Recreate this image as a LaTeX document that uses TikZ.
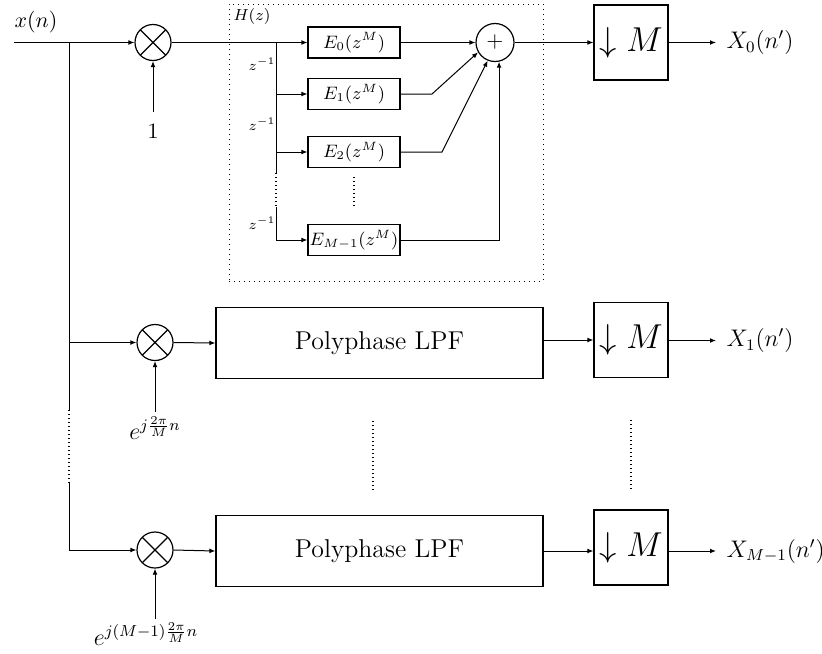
\documentclass[tikz,border=0pt]{standalone}
\usetikzlibrary{arrows.meta}
\begin{document}
\begin{tikzpicture}[x=0.5pt,y=-0.5pt,
  >={Latex[length=3pt,width=2.4pt]},
  every path/.style={line width=0.5pt},
  wire/.style={line width=0.5pt,->},
  mult/.style={circle,draw,line width=0.6pt,minimum size=18pt,inner sep=0pt,
    path picture={\draw[line width=0.6pt] (path picture bounding box.north west)--(path picture bounding box.south east)
      (path picture bounding box.north east)--(path picture bounding box.south west);}},
  summer/.style={circle,draw,line width=0.6pt,minimum size=19pt,inner sep=0pt,font=\fontsize{11}{11}\selectfont},
  ebox/.style={draw,line width=0.6pt,minimum width=46pt,minimum height=15.5pt,inner sep=0pt,font=\fontsize{9}{9}\selectfont},
  lpf/.style={draw,line width=0.6pt,minimum width=163.5pt,minimum height=35.5pt,inner sep=0pt,font=\fontsize{12.9}{14}\selectfont},
  dbox/.style={draw,line width=0.6pt,minimum width=37pt,minimum height=37.5pt,inner sep=0pt,font=\fontsize{17.5}{18}\selectfont},
  outlbl/.style={anchor=west,inner xsep=5pt,inner ysep=0pt,font=\fontsize{11.5}{12}\selectfont},
  zlbl/.style={inner sep=0pt,font=\fontsize{7.5}{8}\selectfont},
  dots/.style={line width=0.7pt,dash pattern=on 0.7pt off 1.3pt}
]
\useasboundingbox (0,0) rectangle (822,653);

% input
\coordinate (in) at (14,42.5);
\node[inner sep=0pt,font=\fontsize{11}{12}\selectfont] (xn) at (36,22) {$x(n)$};
\node[mult] (m1) at (153,42.5) {};
\node[mult] (m2) at (155,342.5) {};
\node[mult] (m3) at (155,550) {};
\draw[wire] (in) -- (m1.west);

% left distribution line
\coordinate (b0) at (69,42.5);
\coordinate (bd1) at (69,410);
\coordinate (bd2) at (69,483);
\coordinate (b2) at (69,550);
\draw (b0) -- (bd1);
\draw[dots] (bd1) -- (bd2);
\draw (bd2) -- (b2);
\draw[wire] (m2.west -| b0) -- (m2.west);
\draw[wire] (b2) -- (m3.west);

% modulator inputs
\coordinate (c1) at (153,112);
\node[inner sep=0pt,font=\fontsize{11}{12}\selectfont] (one) at (153,131) {$1$};
\draw[wire] (c1) -- (m1.south);
\coordinate (c2) at (155,412);
\node[inner sep=0pt,font=\fontsize{11.5}{12}\selectfont] (ex1) at (155,428) {$e^{j\frac{2\pi}{M}n}$};
\draw[wire] (c2) -- (m2.south);
\coordinate (c3) at (155,619);
\node[inner sep=0pt,font=\fontsize{11.5}{12}\selectfont] (ex2) at (146,634) {$e^{j(M-1)\frac{2\pi}{M}n}$};
\draw[wire] (c3) -- (m3.south);

% H(z) polyphase block
\node[draw,dotted,line width=0.5pt,minimum width=157pt,minimum height=138.5pt,inner sep=0pt] (hbox) at (386,142.5) {};
\node[inner sep=0pt,font=\fontsize{8}{9}\selectfont] (hz) at (252,16) {$H(z)$};
\node[ebox] (e0) at (354,42.5) {$E_0(z^M)$};
\node[ebox] (e1) at (354,94) {$E_1(z^M)$};
\node[ebox] (e2) at (354,152) {$E_2(z^M)$};
\node[ebox] (e3) at (354,240) {$E_{M-1}(z^M)$};
\node[summer] (sum) at (495,42.5) {$+$};

\draw[wire] (m1.east) -- (e0.west);
\coordinate (t0) at (276,42.5);
\coordinate (td1) at (276,173);
\coordinate (td2) at (276,207);
\draw (t0) -- (td1);
\draw[dots] (td1) -- (td2);
\draw[wire] (td2) |- (e3.west);
\draw[wire] (e1.west -| t0) -- (e1.west);
\draw[wire] (e2.west -| t0) -- (e2.west);
\node[zlbl] (z1) at (262,64) {$z^{-1}$};
\node[zlbl] (z2) at (262,124) {$z^{-1}$};
\node[zlbl] (z3) at (262,223) {$z^{-1}$};
\coordinate (ed1) at (354,177);
\coordinate (ed2) at (354,207);
\draw[dots] (ed1) -- (ed2);

\coordinate (k1) at (432,94);
\coordinate (k2) at (442,152);
\draw[wire] (e0.east) -- (sum.west);
\draw[wire] (e1.east) -- (k1) -- (sum.210);
\draw[wire] (e2.east) -- (k2) -- (sum.248);
\draw[wire] (e3.east) -| (sum.282);

% downsamplers
\node[dbox] (d0) at (631,42.5) {$\downarrow M$};
\node[dbox] (d1) at (631,340) {$\downarrow M$};
\node[dbox] (d2) at (631,547.5) {$\downarrow M$};
\draw[wire] (sum.east) -- (d0.west);

\node[lpf] (p1) at (379.5,343) {Polyphase LPF};
\node[lpf] (p2) at (379.5,551) {Polyphase LPF};
\draw[wire] (m2.east) -- (p1.west);
\draw[wire] (m3.east) -- (p2.west);
\draw[wire] (p1.east |- d1.west) -- (d1.west);
\draw[wire] (p2.east) -- (p2.east -| d2.west);

% outputs
\node[outlbl] (x0) at (716,42.5) {$X_0(n')$};
\node[outlbl] (x1) at (716,340.5) {$X_1(n')$};
\node[outlbl] (x2) at (716,551) {$X_{M-1}(n')$};
\draw[wire] (d0.east |- x0.west) -- (x0.west);
\draw[wire] (d1.east |- x1.west) -- (x1.west);
\draw[wire] (d2.east |- x2.west) -- (x2.west);

% vertical dots between rows
\coordinate (v1) at (373,421);
\coordinate (v2) at (373,490);
\coordinate (v3) at (631,420);
\coordinate (v4) at (631,490);
\draw[dots] (v1) -- (v2);
\draw[dots] (v3) -- (v4);
\end{tikzpicture}
\end{document}
